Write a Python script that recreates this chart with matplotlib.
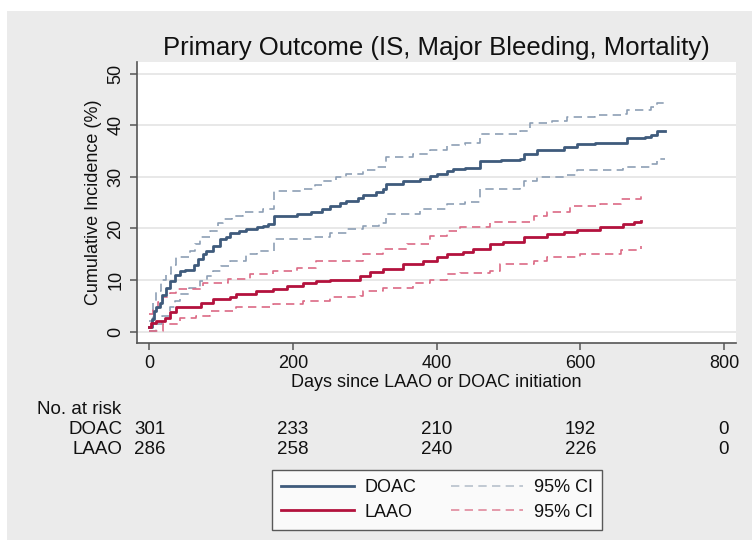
import matplotlib
matplotlib.use("Agg")
import matplotlib.pyplot as plt
from matplotlib.patches import Rectangle
from matplotlib.lines import Line2D
import matplotlib.transforms as mtransforms

plt.rcParams['font.family'] = ['Liberation Sans', 'DejaVu Sans']

# cumulative incidence (%), step points (day, value)
doac_t = [0, 3, 6, 9, 14, 18, 23, 28, 35, 42, 50, 62, 67, 75, 79, 88, 98, 107, 112, 125,
          135, 150, 158, 165, 174, 205, 225, 240, 251, 265, 274, 290, 298, 316, 325, 330,
          353, 377, 391, 400, 414, 423, 440, 460, 490, 516, 521, 540, 577, 595, 620, 665,
          690, 698, 707, 718]
doac_est = [0.8, 2.5, 4.0, 4.7, 5.5, 7.0, 8.5, 9.8, 11.0, 11.8, 12.0, 13.0, 14.0, 15.0, 15.7,
            16.6, 17.9, 18.3, 19.2, 19.6, 19.9, 20.3, 20.5, 20.9, 22.5, 22.8, 23.1, 23.8,
            24.4, 24.9, 25.4, 26.0, 26.4, 27.0, 27.6, 28.6, 29.3, 29.6, 30.2, 30.6, 31.2,
            31.6, 31.8, 33.0, 33.3, 33.5, 34.5, 35.2, 35.8, 36.4, 36.6, 37.6, 37.8, 38.1,
            39.0, 39.0]

doac_hi_t = [0, 5, 9, 16, 23, 30, 37, 56, 63, 70, 84, 95, 102, 115, 130, 158, 174, 214, 230,
             242, 260, 274, 298, 316, 330, 367, 390, 414, 440, 460, 516, 530, 560, 581, 620,
             656, 665, 698, 707, 718]
doac_hi = [2.0, 5.5, 7.9, 10.0, 11.1, 13.0, 14.4, 15.7, 17.0, 18.3, 19.6, 21.0, 21.8, 22.5,
           23.1, 23.8, 27.3, 27.7, 28.5, 29.3, 30.0, 30.6, 31.3, 31.9, 33.8, 34.5, 35.2,
           36.1, 36.5, 38.4, 39.0, 40.5, 40.8, 41.6, 42.0, 42.3, 43.0, 43.6, 44.4, 44.4]

doac_lo_t = [0, 9, 18, 28, 35, 42, 55, 70, 80, 88, 100, 112, 135, 150, 174, 228, 251, 275,
             298, 320, 330, 377, 414, 440, 460, 516, 521, 540, 577, 595, 660, 698, 707, 718]
doac_lo = [0.1, 1.4, 3.0, 4.7, 6.0, 7.3, 8.5, 9.8, 10.8, 11.8, 12.8, 13.7, 15.0, 15.6, 17.9,
           18.3, 19.2, 19.8, 20.5, 21.0, 22.8, 23.8, 24.7, 25.2, 27.7, 28.1, 29.3, 30.0,
           30.3, 31.3, 32.0, 32.6, 33.5, 33.5]

laao_t = [0, 2, 9, 21, 28, 37, 72, 88, 112, 121, 149, 172, 191, 214, 232, 251, 293, 307, 325,
          353, 381, 400, 414, 437, 450, 474, 493, 521, 553, 577, 595, 628, 660, 675, 684]
laao_est = [0.8, 1.7, 2.1, 2.7, 3.7, 4.7, 5.6, 6.3, 6.6, 7.3, 7.9, 8.2, 8.9, 9.5, 9.8, 10.0,
            10.8, 11.5, 12.1, 13.1, 13.7, 14.4, 15.0, 15.4, 16.0, 17.0, 17.3, 18.3, 18.9,
            19.3, 19.7, 20.2, 20.9, 21.2, 21.4]

laao_hi_t = [0, 5, 12, 19, 28, 37, 74, 110, 140, 172, 205, 232, 298, 325, 358, 391, 414, 432,
             474, 535, 553, 586, 628, 656, 684]
laao_hi = [3.4, 4.5, 5.8, 6.6, 7.5, 8.2, 9.5, 10.2, 11.1, 11.8, 12.4, 13.7, 15.0, 16.0, 17.0,
           18.6, 19.6, 20.2, 21.2, 22.5, 23.2, 24.3, 24.8, 25.7, 26.4]

laao_lo_t = [0, 19, 42, 65, 84, 121, 172, 214, 251, 293, 298, 325, 367, 390, 414, 432, 474,
             488, 535, 553, 600, 656, 684]
laao_lo = [0.1, 1.4, 2.7, 3.0, 4.0, 4.7, 5.3, 6.0, 6.6, 6.9, 7.9, 8.5, 9.5, 10.0, 11.1, 11.3,
           11.8, 13.1, 13.7, 14.4, 15.0, 15.8, 16.5]

risk_days = [0, 200, 400, 600, 800]
risk_doac = [301, 233, 210, 192, 0]
risk_laao = [286, 258, 240, 226, 0]

doac_col = '#3f5b7c'
laao_col = '#b3123d'
doac_ci = '#8d9fb5'
laao_ci = '#dc6a85'
text_col = '#111111'

fig = plt.figure(figsize=(7.52, 5.51), dpi=100, facecolor='white')
fig.patches.append(Rectangle((7 / 752, 1 - 540 / 551), 1 - 7 / 752, 529 / 551,
                             transform=fig.transFigure, facecolor='#ebebeb',
                             edgecolor='none', zorder=-5))

ax = fig.add_axes([137 / 752, 1 - 343 / 551, 599 / 752, 281 / 551])
ax.set_facecolor('white')

ax.plot(doac_hi_t, doac_hi, drawstyle='steps-post', color=doac_ci, lw=1.2, dashes=(5, 3.2))
ax.plot(doac_lo_t, doac_lo, drawstyle='steps-post', color=doac_ci, lw=1.2, dashes=(5, 3.2))
ax.plot(laao_hi_t, laao_hi, drawstyle='steps-post', color=laao_ci, lw=1.2, dashes=(5, 3.2))
ax.plot(laao_lo_t, laao_lo, drawstyle='steps-post', color=laao_ci, lw=1.2, dashes=(5, 3.2))
ax.plot(doac_t, doac_est, drawstyle='steps-post', color=doac_col, lw=2.0)
ax.plot(laao_t, laao_est, drawstyle='steps-post', color=laao_col, lw=2.0)

ax.set_xlim(-17.4, 816.8)
ax.set_ylim(-2.23, 52.3)
ax.set_xticks([0, 200, 400, 600, 800])
ax.set_yticks([0, 10, 20, 30, 40, 50])
ax.grid(axis='y', color='#e6e6e6', lw=1.3)
ax.set_axisbelow(True)
for s in ['top', 'right']:
    ax.spines[s].set_visible(False)
for s in ['left', 'bottom']:
    ax.spines[s].set_color('#555555')
    ax.spines[s].set_linewidth(1.2)
ax.tick_params(axis='both', length=5, width=1.1, color='#555555', labelsize=13,
               labelcolor=text_col, pad=4)
for lab in ax.get_yticklabels():
    lab.set_rotation(90)
    lab.set_va('center')

ax.set_title('Primary Outcome (IS, Major Bleeding, Mortality)', fontsize=18.5,
             color=text_col, pad=5)
ax.set_xlabel('Days since LAAO or DOAC initiation', fontsize=13, color=text_col, labelpad=1)
ax.set_ylabel('Cumulative Incidence (%)', fontsize=13, color=text_col, labelpad=4)

# number at risk table
trans = mtransforms.blended_transform_factory(ax.transData, fig.transFigure)
fig.text(37 / 752, 1 - 410 / 551, 'No. at risk', fontsize=13.5, color=text_col, va='center')
fig.text(122 / 752, 1 - 430 / 551, 'DOAC', fontsize=13.5, color=text_col, va='center', ha='right')
fig.text(122 / 752, 1 - 450 / 551, 'LAAO', fontsize=13.5, color=text_col, va='center', ha='right')
for d, n1, n2 in zip(risk_days, risk_doac, risk_laao):
    ax.text(d, 1 - 430 / 551, str(n1), transform=trans, fontsize=13.5, color=text_col,
            ha='center', va='center', clip_on=False)
    ax.text(d, 1 - 450 / 551, str(n2), transform=trans, fontsize=13.5, color=text_col,
            ha='center', va='center', clip_on=False)

handles = [Line2D([], [], color=doac_col, lw=2.0),
           Line2D([], [], color=laao_col, lw=2.0),
           Line2D([], [], color='#b7c1cc', lw=1.2, dashes=(5, 3.2)),
           Line2D([], [], color='#e08a9d', lw=1.2, dashes=(5, 3.2))]
labels = ['DOAC', 'LAAO', '95% CI', '95% CI']
leg = fig.legend(handles, labels, ncol=2, loc='center', bbox_to_anchor=(437 / 752, 1 - 500 / 551),
                 fontsize=13, frameon=True, fancybox=False, handlelength=4.0,
                 handletextpad=0.6, columnspacing=1.9, labelspacing=0.4, borderpad=0.5)
leg.get_frame().set_edgecolor('#333333')
leg.get_frame().set_linewidth(1.0)
for t in leg.get_texts():
    t.set_color(text_col)

fig.savefig('out.png', dpi=100, facecolor='white')
